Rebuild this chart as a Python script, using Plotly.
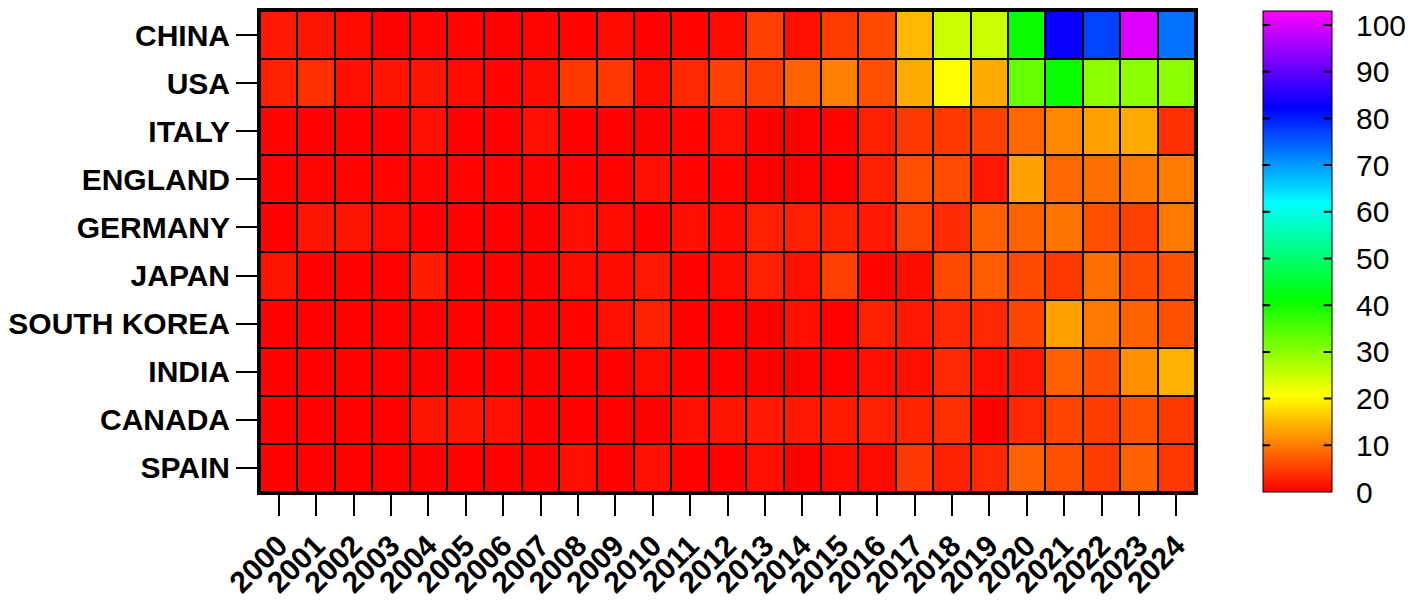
import plotly.graph_objects as go

years = [str(y) for y in range(2000, 2025)]
countries = ["CHINA", "USA", "ITALY", "ENGLAND", "GERMANY", "JAPAN",
             "SOUTH KOREA", "INDIA", "CANADA", "SPAIN"]

china = [1.9, 1.6, 0.7, 0.2, 0.4, 0.4, 0.2, 0.4, 0.4, 0.7, 0.2, 0.4, 0.7,
         5.2, 1.2, 4.8, 5.8, 14.8, 25.0, 25.0, 40.5, 83.0, 77.0, 100.5, 73.0]
usa = [2.6, 3.9, 1.3, 1.6, 1.6, 0.7, 0.4, 0.7, 4.5, 4.5, 0.7, 3.2, 5.2,
       5.2, 8.0, 10.3, 6.5, 13.7, 20.6, 13.7, 33.0, 40.5, 30.0, 30.0, 30.0]
italy = [0.4, 0.2, 0.2, 0.2, 1.3, 0.2, 0.2, 1.3, 0.2, 0.2, 0.2, 0.4, 1.3,
         0.2, 0.2, 0.4, 2.6, 4.5, 4.5, 5.2, 8.4, 11.0, 13.0, 13.7, 3.9]
england = [0.4, 0.4, 0.4, 0.4, 0.4, 0.4, 0.4, 0.4, 0.4, 0.4, 1.3, 0.4, 0.4,
           0.2, 0.2, 0.2, 2.6, 6.5, 6.0, 2.0, 13.0, 8.4, 9.0, 9.7, 10.0]
germany = [0.2, 1.6, 1.6, 0.7, 0.2, 0.2, 0.2, 0.2, 1.3, 0.7, 0.2, 1.3, 0.7,
           2.6, 2.6, 2.6, 2.0, 5.5, 3.5, 7.8, 8.0, 9.4, 6.5, 5.2, 9.7]
japan = [1.6, 0.2, 0.2, 0.2, 2.3, 0.2, 0.2, 0.2, 0.7, 0.7, 1.9, 0.2, 0.7,
         2.6, 1.3, 5.2, 0.3, 1.0, 5.8, 7.4, 5.8, 4.5, 9.0, 5.8, 6.5]
south_korea = [0.2, 0.2, 0.2, 0.2, 0.2, 0.2, 0.2, 0.2, 0.4, 1.3, 2.6, 0.2, 0.2,
               0.2, 1.3, 0.2, 2.6, 2.0, 3.2, 3.2, 5.5, 13.0, 9.7, 8.0, 6.5]
india = [0.2, 0.2, 0.2, 0.2, 0.2, 0.2, 0.2, 0.2, 0.2, 0.2, 0.7, 0.2, 0.2,
         0.2, 0.2, 0.2, 1.3, 1.3, 3.2, 1.3, 2.0, 7.8, 6.2, 11.6, 14.5]
canada = [0.2, 0.2, 0.2, 0.2, 1.6, 1.6, 1.3, 0.2, 0.2, 0.2, 0.2, 1.3, 1.6,
          2.0, 2.0, 2.3, 2.6, 2.9, 3.9, 0.2, 3.2, 5.5, 4.8, 6.5, 4.5]
spain = [0.2, 0.2, 0.2, 0.2, 0.2, 0.2, 0.2, 0.2, 1.3, 0.2, 1.3, 0.2, 0.2,
         1.3, 0.2, 0.7, 0.7, 4.5, 2.6, 3.2, 7.8, 6.5, 4.8, 7.8, 4.5]

z = [china, usa, italy, england, germany, japan, south_korea, india, canada, spain]

cbar_ticks = [0, 10, 20, 30, 40, 50, 60, 70, 80, 90, 100]
ZMAX = 103

colorscale = [
    [0.0, "#ff0000"],
    [0.2, "#ffff00"],
    [0.4, "#00ff00"],
    [0.6, "#00ffff"],
    [0.8, "#0000ff"],
    [1.0, "#ff00ff"],
]

font_family = "Arial, Liberation Sans, sans-serif"

# page body has an 8px margin; compensate so the figure lands where the reference is
W, H = 1410, 597
L, R, T, B = 247, 223, 0, 113
plot_w = W - L - R
CB_THICK = 69
cb_x0 = (1263 - 255) / plot_w
cb_x1 = cb_x0 + CB_THICK / plot_w

fig = go.Figure(go.Heatmap(
    z=z, x=years, y=countries,
    colorscale=colorscale, zmin=0, zmax=ZMAX,
    xgap=2, ygap=2,
    colorbar=dict(
        thickness=CB_THICK, thicknessmode="pixels",
        len=1.0, lenmode="fraction",
        x=cb_x0, xanchor="left", xpad=0,
        y=0.5, yanchor="middle", ypad=0,
        outlinewidth=1, outlinecolor="black",
        tickvals=cbar_ticks, ticks="outside", ticklen=18, tickwidth=0,
        tickcolor="white", ticklabeloverflow="allow",
        tickfont=dict(family=font_family, size=30, color="black"),
    ),
))

# small inside tick marks on both edges of the colour bar
for v in cbar_ticks[1:]:
    yy = v / ZMAX
    for xe, off in ((cb_x0, 9), (cb_x1, -9)):
        fig.add_annotation(
            xref="paper", yref="paper", x=xe, y=yy, text="",
            showarrow=True, arrowhead=0, arrowwidth=2, arrowcolor="black",
            ax=off, ay=0, standoff=0, startstandoff=0,
        )

fig.update_layout(
    width=W, height=H,
    margin=dict(l=L, r=R, t=T, b=B),
    paper_bgcolor="white",
    plot_bgcolor="black",
    font=dict(family=font_family, color="black"),
)

fig.update_xaxes(
    type="category", showgrid=False, zeroline=False,
    showline=True, linecolor="black", linewidth=3, mirror=True,
    ticks="outside", ticklen=21, tickwidth=2, tickcolor="black",
    tickangle=-45,
    tickfont=dict(family=font_family, size=30, color="black", weight="bold"),
)
fig.update_yaxes(
    type="category", autorange="reversed", showgrid=False, zeroline=False,
    showline=True, linecolor="black", linewidth=3, mirror=True,
    ticks="outside", ticklen=21, tickwidth=2, tickcolor="black",
    tickfont=dict(family=font_family, size=30, color="black", weight="bold"),
)

fig.write_html("out.html")
